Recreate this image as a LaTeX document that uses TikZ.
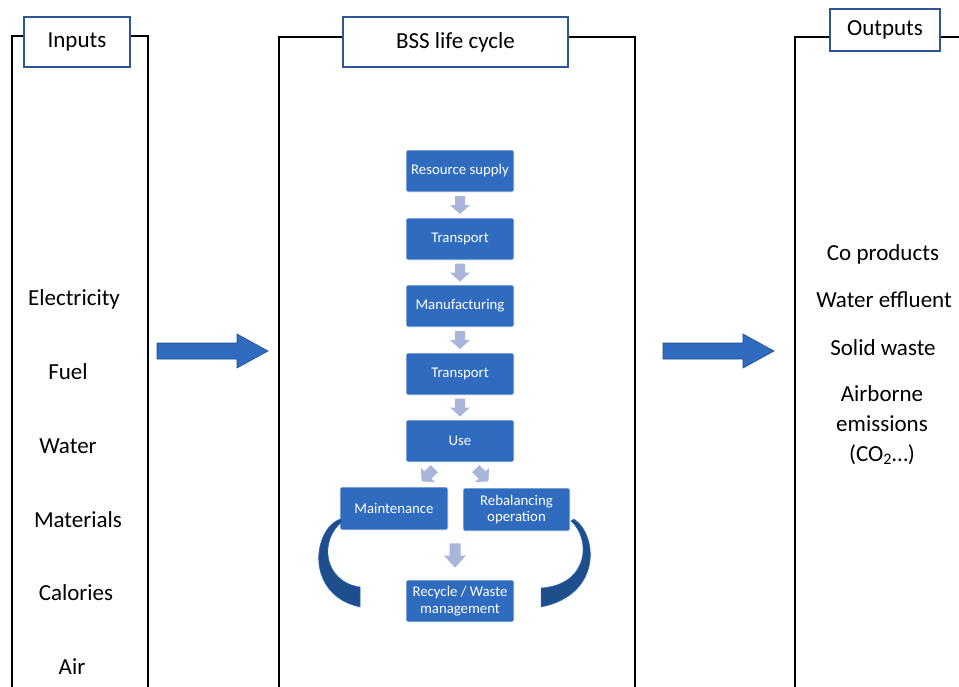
\documentclass[tikz,border=0pt]{standalone}
\usepackage{fontspec}
\setmainfont{Carlito}
\usetikzlibrary{calc}
\definecolor{boxblue}{HTML}{2F6BBF}
\definecolor{labelblue}{HTML}{2F5597}
\definecolor{lightarrow}{HTML}{A9B5DB}
\definecolor{darkblue}{HTML}{1F4E8C}
\tikzset{
  panel/.style={draw=black,line width=1.4pt},
  labelbox/.style={draw=labelblue,line width=1.6pt,fill=white,inner sep=0pt,font=\fontsize{23}{27}\selectfont},
  stepbox/.style={fill=boxblue,draw=white,line width=0.6pt,rounded corners=2pt,minimum width=108pt,minimum height=42pt,inner sep=1pt,align=center,text=white,font=\fontsize{14.8}{16.5}\selectfont},
  plaintext/.style={inner sep=0pt,align=center,font=\fontsize{23}{30}\selectfont},
  bigarrow/.style={fill=boxblue,draw=darkblue,line width=0.6pt},
  smallarrow/.style={fill=lightarrow,draw=none},
  band/.style={fill=darkblue,draw=boxblue,line width=0.5pt},
  pics/downarrow/.style={code={
    \path[smallarrow] (-5,-9) -- (5,-9) -- (5,0) -- (10,0) -- (0,9) -- (-10,0) -- (-5,0) -- cycle;}},
}
\begin{document}
\begin{tikzpicture}[x=1pt,y=-1pt]
\useasboundingbox (0,0) rectangle (959,686);
% panels
\draw[panel] (12,700) -- (12,36) -- (148,36) -- (148,700);
\draw[panel] (279,700) -- (279,37) -- (635,37) -- (635,700);
\draw[panel] (795,700) -- (795,37) -- (970,37);
% labels
\node[labelbox,minimum width=106pt,minimum height=50pt] (inl) at (77,42) {Inputs};
\node[labelbox,minimum width=225pt,minimum height=50pt] (bssl) at (455.5,42) {BSS life cycle};
\node[labelbox,minimum width=110pt,minimum height=42pt] (outl) at (885,30) {Outputs};
% inputs
\node[plaintext] (i1) at (74,299) {Electricity};
\node[plaintext] (i2) at (68,372) {Fuel};
\node[plaintext] (i3) at (68,446) {Water};
\node[plaintext] (i4) at (78,520) {Materials};
\node[plaintext] (i5) at (76,593) {Calories};
\node[plaintext] (i6) at (72,667) {Air};
% outputs
\node[plaintext] (o1) at (883,254) {Co products};
\node[plaintext] (o2) at (884,300) {Water effluent};
\node[plaintext] (o3) at (883,348) {Solid waste};
\node[plaintext] (o4) at (882,425) {Airborne\\emissions\\(CO\textsubscript{2}…)};
% big arrows
\coordinate (la) at (157,351);
\coordinate (ra) at (663,351);
\path[bigarrow] ($(la)+(0,-8)$) -- ++(80,0) -- ++(0,-9) -- ++(31,17) -- ++(-31,17) -- ++(0,-9) -- ++(-80,0) -- cycle;
\path[bigarrow] ($(ra)+(0,-8)$) -- ++(80,0) -- ++(0,-9) -- ++(31,17) -- ++(-31,17) -- ++(0,-9) -- ++(-80,0) -- cycle;
% steps
\node[stepbox] (rs) at (460,171) {Resource supply};
\node[stepbox] (t1) at (460,239) {Transport};
\node[stepbox] (mf) at (460,306) {Manufacturing};
\node[stepbox] (t2) at (460,374) {Transport};
\node[stepbox] (use) at (460,441) {Use};
\node[stepbox,minimum height=43pt] (mt) at (394,508.5) {Maintenance};
\node[stepbox,minimum height=43pt,minimum width=107pt] (rb) at (516.5,509.5) {Rebalancing\\operation};
\node[stepbox] (rc) at (460,601) {Recycle / Waste\\management};
% small arrows
\pic at ($(rs.south)!0.5!(t1.north)$) {downarrow};
\pic at ($(t1.south)!0.5!(mf.north)$) {downarrow};
\pic at ($(mf.south)!0.5!(t2.north)$) {downarrow};
\pic at ($(t2.south)!0.5!(use.north)$) {downarrow};
\pic[rotate=-45] at (428,475) {downarrow};
\pic[rotate=45] at (482,475) {downarrow};
\pic[yscale=1.35,xscale=1.1] at (455,555.5) {downarrow};
% curved bands
\path[band] (340,519) .. controls (312,530) and (305,595) .. (360,607)
  -- (360,587) .. controls (324,582) and (318,540) .. (343,521) -- cycle;
\path[band] (574,519) .. controls (598,535) and (602,595) .. (541,607)
  -- (541,588) .. controls (588,585) and (592,540) .. (571,521) -- cycle;
\end{tikzpicture}
\end{document}
